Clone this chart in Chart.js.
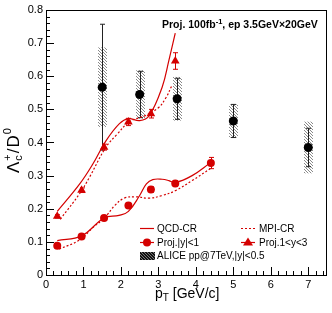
<!DOCTYPE html>
<html>
<head>
<meta charset="utf-8">
<script src="https://cdn.jsdelivr.net/npm/chart.js@4.4.0/dist/chart.umd.min.js"></script>
<style>
  html, body { margin: 0; padding: 0; background: #fff; }
  #wrap { width: 332px; height: 313px; }
</style>
</head>
<body>
<div id="wrap"><canvas id="chart" width="332" height="313"></canvas></div>
<script>
// projections, |y|<1
const projMidX = [0.3, 0.95, 1.55, 2.2, 2.8, 3.45, 4.4];
const projMidY = [0.088, 0.116, 0.172, 0.210, 0.258, 0.276, 0.338];
const projMidErr = [0.004, 0.005, 0.006, 0.007, 0.008, 0.009, 0.017];

// projections, 1<y<3
const projFwdX = [0.3, 0.95, 1.55, 2.2, 2.8, 3.45];
const projFwdY = [0.177, 0.256, 0.386, 0.462, 0.487, 0.646];
const projFwdErr = [0.005, 0.007, 0.009, 0.011, 0.013, 0.025];

// model curves
const qcdMidX = [0.3, 0.95, 1.55, 1.95, 2.2, 2.5, 2.68, 2.85, 3.1, 3.28, 3.45, 3.9, 4.4];
const qcdMidY = [0.104, 0.118, 0.172, 0.180, 0.192, 0.240, 0.275, 0.288, 0.289, 0.285, 0.279, 0.300, 0.340];
const mpiMidX = [0.35, 0.9, 1.25, 1.56, 1.83, 2.09, 2.4, 2.75, 3.1, 3.46, 3.9, 4.4];
const mpiMidY = [0.078, 0.106, 0.143, 0.172, 0.209, 0.232, 0.236, 0.232, 0.240, 0.255, 0.285, 0.322];
const qcdFwdX = [0.3, 0.9, 1.25, 1.6, 1.96, 2.2, 2.5, 2.75, 3.1, 3.28, 3.45];
const qcdFwdY = [0.192, 0.275, 0.335, 0.405, 0.457, 0.472, 0.466, 0.480, 0.567, 0.648, 0.730];
const mpiFwdX = [0.38, 0.9, 1.16, 1.6, 1.9, 2.22, 2.66, 3.0, 3.2, 3.36];
const mpiFwdY = [0.168, 0.246, 0.295, 0.386, 0.425, 0.462, 0.482, 0.505, 0.535, 0.572];

// ALICE pp 7 TeV, |y|<0.5
const aliceX = [1.5, 2.5, 3.5, 5.0, 7.0];
const aliceY = [0.567, 0.545, 0.532, 0.465, 0.385];
const aliceStat = [0.19, 0.07, 0.062, 0.05, 0.058];
const aliceSys = [0.12, 0.073, 0.066, 0.05, 0.078];

const xTicks = [0, 1, 2, 3, 4, 5, 6, 7];
const yTicks = [0, 0.1, 0.2, 0.3, 0.4, 0.5, 0.6, 0.7, 0.8];

const RED = '#d40000';
const FONT = '"Liberation Sans", Arial, Helvetica, sans-serif';

function pts(xs, ys) {
  return xs.map((x, i) => ({ x: x, y: ys[i] }));
}

// hatch pattern for the systematic boxes
function makeHatch(bg, fg) {
  const c = document.createElement('canvas');
  c.width = 3; c.height = 3;
  const g = c.getContext('2d');
  if (bg) { g.fillStyle = bg; g.fillRect(0, 0, 3, 3); }
  g.strokeStyle = fg;
  g.lineWidth = 1;
  g.beginPath();
  g.moveTo(-1, -1); g.lineTo(4, 4);
  g.moveTo(-1, 2); g.lineTo(1, 4);
  g.moveTo(2, -1); g.lineTo(4, 1);
  g.stroke();
  return g.createPattern(c, 'repeat');
}

// draws text pieces with sub/superscripts, left to right from (x,y)
function richText(ctx, x, y, parts) {
  let cx = x;
  parts.forEach(p => {
    ctx.font = (p.bold ? 'bold ' : '') + p.size + 'px ' + FONT;
    ctx.fillText(p.t, cx, y + (p.dy || 0));
    const w = ctx.measureText(p.t).width;
    if (!p.stack) cx += w + (p.gap || 0);
  });
  return cx;
}

const hatch = makeHatch(null, '#8a8a8a');
const hatchLeg = makeHatch('#111', '#777');

const extras = {
  id: 'extras',
  beforeDatasetsDraw(chart) {
    const ctx = chart.ctx, xs = chart.scales.x, ys = chart.scales.y;
    ctx.save();
    // ALICE sys boxes + stat bars
    aliceX.forEach((x, i) => {
      const px = xs.getPixelForValue(x);
      const top = ys.getPixelForValue(aliceY[i] + aliceSys[i]);
      const bot = ys.getPixelForValue(aliceY[i] - aliceSys[i]);
      ctx.fillStyle = hatch;
      ctx.fillRect(Math.round(px) - 4, top, 9, bot - top);
    });
    ctx.strokeStyle = '#222';
    ctx.lineWidth = 1;
    aliceX.forEach((x, i) => {
      const px = Math.round(xs.getPixelForValue(x)) + 0.5;
      const t = ys.getPixelForValue(aliceY[i] + aliceStat[i]);
      const b = ys.getPixelForValue(aliceY[i] - aliceStat[i]);
      ctx.beginPath();
      ctx.moveTo(px, t); ctx.lineTo(px, b);
      ctx.moveTo(px - 2.5, t); ctx.lineTo(px + 2.5, t);
      ctx.moveTo(px - 2.5, b); ctx.lineTo(px + 2.5, b);
      ctx.stroke();
    });
    // projection error bars
    ctx.strokeStyle = RED;
    const bars = (X, Y, E) => X.forEach((x, i) => {
      const px = Math.round(xs.getPixelForValue(x)) + 0.5;
      const t = ys.getPixelForValue(Y[i] + E[i]);
      const b = ys.getPixelForValue(Y[i] - E[i]);
      ctx.beginPath();
      ctx.moveTo(px, t); ctx.lineTo(px, b);
      ctx.moveTo(px - 2.5, t); ctx.lineTo(px + 2.5, t);
      ctx.moveTo(px - 2.5, b); ctx.lineTo(px + 2.5, b);
      ctx.stroke();
    });
    bars(projMidX, projMidY, projMidErr);
    bars(projFwdX, projFwdY, projFwdErr);
    ctx.restore();
  },
  afterDraw(chart) {
    const ctx = chart.ctx, a = chart.chartArea;
    const xs = chart.scales.x, ys = chart.scales.y;
    ctx.save();
    // frame
    ctx.strokeStyle = '#000';
    ctx.lineWidth = 1;
    ctx.strokeRect(Math.round(a.left) + 0.5, Math.round(a.top) + 0.5,
      Math.round(a.right - a.left) - 1, Math.round(a.bottom - a.top));
    // ticks, major and minor, pointing inside
    ctx.beginPath();
    for (let v = 0; v <= 7.5001; v += 0.2) {
      const major = Math.abs(v - Math.round(v)) < 1e-6;
      const px = Math.round(xs.getPixelForValue(v)) + 0.5;
      ctx.moveTo(px, a.bottom); ctx.lineTo(px, a.bottom - (major ? 8 : 4));
    }
    for (let v = 0; v <= 0.8001; v += 0.02) {
      const major = Math.abs(v * 10 - Math.round(v * 10)) < 1e-6;
      const py = Math.round(ys.getPixelForValue(v)) + 0.5;
      ctx.moveTo(a.left, py); ctx.lineTo(a.left + (major ? 8 : 4), py);
    }
    ctx.stroke();

    ctx.fillStyle = '#000';
    ctx.textBaseline = 'alphabetic';
    ctx.textAlign = 'left';
    // header
    richText(ctx, 162, 28, [
      { t: 'Proj. 100fb', size: 10.5, bold: true },
      { t: '-1', size: 7.5, bold: true, dy: -4 },
      { t: ', ep 3.5GeV\u00d720GeV', size: 10.5, bold: true }
    ]);
    // x title
    richText(ctx, 155, 298, [
      { t: 'p', size: 14 },
      { t: 'T', size: 10, dy: 3 },
      { t: ' [GeV/c]', size: 14 }
    ]);
    // y title, rotated
    ctx.save();
    ctx.translate(19, 173);
    ctx.rotate(-Math.PI / 2);
    richText(ctx, 0, 0, [
      { t: '\u039b', size: 17, gap: 1 },
      { t: '+', size: 11, dy: -8, stack: true },
      { t: 'c', size: 11, dy: 3, gap: 2 },
      { t: '/', size: 17, gap: 1 },
      { t: 'D', size: 17, gap: 1 },
      { t: '0', size: 11, dy: -8 }
    ]);
    ctx.restore();

    // legend
    ctx.font = '10px ' + FONT;
    ctx.textBaseline = 'middle';
    const ds = chart.data.datasets;
    // row 1
    ctx.strokeStyle = RED;
    ctx.lineWidth = 1.2;
    ctx.beginPath(); ctx.moveTo(140, 228.5); ctx.lineTo(154, 228.5); ctx.stroke();
    ctx.fillText(ds[0].label, 157, 229);
    ctx.setLineDash([2, 2]);
    ctx.beginPath(); ctx.moveTo(241, 228.5); ctx.lineTo(255, 228.5); ctx.stroke();
    ctx.setLineDash([]);
    ctx.fillText(ds[1].label, 259, 229);
    // row 2
    ctx.beginPath(); ctx.moveTo(140, 242.5); ctx.lineTo(154, 242.5); ctx.stroke();
    ctx.fillStyle = RED;
    ctx.beginPath(); ctx.arc(147, 242.5, 4, 0, Math.PI * 2); ctx.fill();
    ctx.fillStyle = '#000';
    ctx.fillText(ds[4].label, 157, 243);
    ctx.beginPath(); ctx.moveTo(241, 242.5); ctx.lineTo(255, 242.5); ctx.stroke();
    ctx.fillStyle = RED;
    ctx.beginPath(); ctx.moveTo(248, 237.5); ctx.lineTo(253, 245.5); ctx.lineTo(243, 245.5); ctx.closePath(); ctx.fill();
    ctx.fillStyle = '#000';
    ctx.fillText(ds[5].label, 259, 243);
    // row 3
    ctx.fillStyle = hatchLeg;
    ctx.fillRect(140, 252, 15, 8);
    ctx.fillStyle = '#000';
    ctx.fillText(ds[6].label, 157, 256.5);
    ctx.restore();
  }
};

Chart.defaults.font.family = FONT;
Chart.defaults.color = '#000';

const ctx = document.getElementById('chart').getContext('2d');
new Chart(ctx, {
  type: 'scatter',
  data: {
    datasets: [
      { label: 'QCD-CR', data: pts(qcdMidX, qcdMidY), showLine: true, borderColor: RED, borderWidth: 1.2, pointRadius: 0, tension: 0.4 },
      { label: 'MPI-CR', data: pts(mpiMidX, mpiMidY), showLine: true, borderColor: RED, borderWidth: 1.2, borderDash: [2, 2], pointRadius: 0, tension: 0.4 },
      { label: 'QCD-CR', data: pts(qcdFwdX, qcdFwdY), showLine: true, borderColor: RED, borderWidth: 1.2, pointRadius: 0, tension: 0.4 },
      { label: 'MPI-CR', data: pts(mpiFwdX, mpiFwdY), showLine: true, borderColor: RED, borderWidth: 1.2, borderDash: [2, 2], pointRadius: 0, tension: 0.4 },
      { label: 'Proj.|y|<1', data: pts(projMidX, projMidY), pointStyle: 'circle', pointRadius: 4, backgroundColor: RED, borderColor: RED, borderWidth: 0 },
      { label: 'Proj.1<y<3', data: pts(projFwdX, projFwdY), pointStyle: 'triangle', pointRadius: 5, backgroundColor: RED, borderColor: RED, borderWidth: 0 },
      { label: 'ALICE pp@7TeV,|y|<0.5', data: pts(aliceX, aliceY), pointStyle: 'circle', pointRadius: 4.5, backgroundColor: '#000', borderColor: '#000', borderWidth: 0 }
    ]
  },
  options: {
    responsive: false,
    animation: false,
    events: [],
    layout: { padding: { top: 10, right: 4, left: 0, bottom: 0 } },
    plugins: { legend: { display: false }, tooltip: { enabled: false } },
    scales: {
      x: {
        type: 'linear', min: 0, max: 7.5,
        afterBuildTicks: s => { s.ticks = xTicks.map(v => ({ value: v })); },
        afterFit: s => { s.height = 38; },
        grid: { display: false, drawTicks: false },
        border: { display: false },
        ticks: { font: { size: 11 }, padding: 3, maxRotation: 0, autoSkip: false, callback: v => String(v) }
      },
      y: {
        type: 'linear', min: 0, max: 0.8,
        afterBuildTicks: s => { s.ticks = yTicks.map(v => ({ value: v })); },
        afterFit: s => { s.width = 46; },
        grid: { display: false, drawTicks: false },
        border: { display: false },
        ticks: { font: { size: 11 }, padding: 3, autoSkip: false, callback: v => (Math.round(v * 10) / 10).toString() }
      }
    }
  },
  plugins: [extras]
});
</script>
</body>
</html>
